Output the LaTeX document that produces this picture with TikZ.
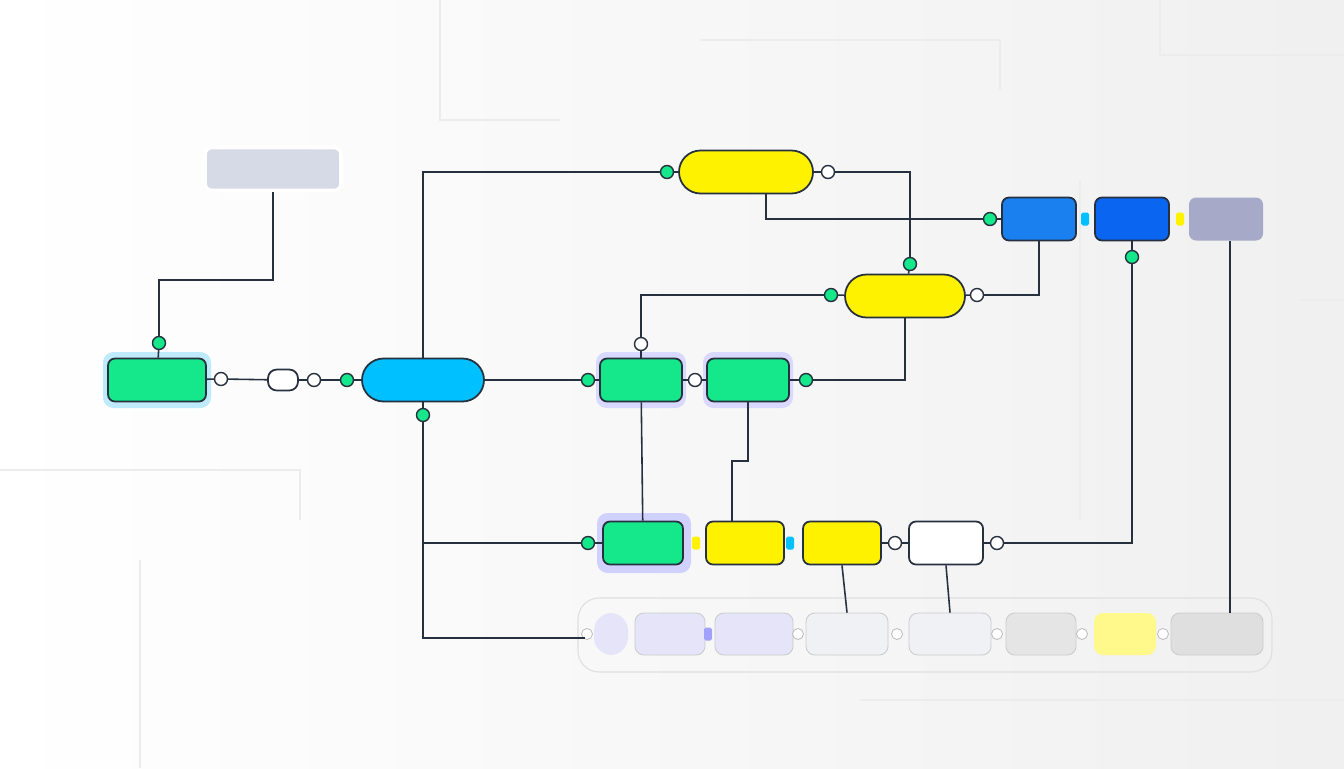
\documentclass[tikz,border=0pt]{standalone}
\usetikzlibrary{positioning}
\definecolor{ink}{HTML}{27303F}
\definecolor{mint}{HTML}{14E88A}
\definecolor{sky}{HTML}{00C0FF}
\definecolor{lemon}{HTML}{FFF200}
\definecolor{blueA}{HTML}{1A80F0}
\definecolor{blueB}{HTML}{0A66F0}
\definecolor{slate}{HTML}{A6A9C8}
\definecolor{lav}{HTML}{E6E4F8}
\definecolor{fog}{HTML}{F0F1F4}
\definecolor{pale}{HTML}{D6DAE6}
\tikzset{
  wire/.style={draw=ink, line width=0.9pt},
  box/.style={draw=ink, line width=1pt, rounded corners=4pt, minimum width=#1*0.02cm, minimum height=0.86cm, inner sep=0pt},
  box/.default=80,
  pill/.style={draw=ink, line width=1pt, rounded corners=0.43cm, minimum width=#1*0.02cm, minimum height=0.86cm, inner sep=0pt},
  dotg/.style={circle, draw=ink, fill=mint, line width=0.8pt, minimum size=0.26cm, inner sep=0pt},
  dotw/.style={circle, draw=ink, fill=white, line width=0.8pt, minimum size=0.26cm, inner sep=0pt},
  tiny/.style={fill=#1, rounded corners=1pt, minimum width=0.16cm, minimum height=0.26cm, inner sep=0pt},
  ghost/.style={draw=gray!40, line width=0.5pt, rounded corners=5pt, minimum width=#1*0.02cm, minimum height=0.84cm, inner sep=0pt},
  gdot/.style={circle, draw=gray!50, fill=white, line width=0.5pt, minimum size=0.22cm, inner sep=0pt},
}
\begin{document}
\begin{tikzpicture}[x=0.02cm, y=-0.02cm]
\shade[left color=white, right color=gray!12] (0,0) rectangle (1344,768);
\useasboundingbox (0,0) rectangle (1344,768);
% faint background traces
\draw[gray!15, line width=0.6pt] (440,0) -- (440,120) -- (560,120) (700,40) -- (1000,40) -- (1000,90) (1160,0) -- (1160,55) -- (1344,55)
  (0,470) -- (300,470) -- (300,520) (140,560) -- (140,768) (860,700) -- (1344,700) (1300,300) -- (1344,300) (1080,180) -- (1080,520);
% top row
\node[box=136, fill=pale, draw=white, line width=2pt] (memo) at (273,169) {};
\node[pill=134, fill=lemon] (y1) at (746,172) {};
\node[dotg] (y1in) at (667,172) {};
\node[dotw] (y1out) at (828,172) {};
\node[box=74, fill=blueA] (b1) at (1039,219) {};
\node[box=74, fill=blueB] (b2) at (1132,219) {};
\node[box=74, fill=slate, draw=none] (gr) at (1226,219) {};
\node[tiny=sky] (t1) at (1085,219) {};
\node[tiny=lemon] (t2) at (1180,219) {};
\node[dotg] (b1in) at (990,219) {};
\node[dotg] (b2dn) at (1132,257) {};
% second row
\node[pill=120, fill=lemon] (y2) at (905,296) {};
\node[dotg] (y2in) at (831,295) {};
\node[dotw] (y2out) at (977,295) {};
\node[dotg] (y2up) at (910,264) {};
% middle row
\fill[cyan!25, rounded corners=6pt] (103,352) rectangle (211,408);
\node[box=98, fill=mint] (g1) at (157,380) {};
\node[dotg] (g1up) at (159,343) {};
\node[dotw] (c1) at (221,379) {};
\node[box=30, minimum height=0.42cm, fill=white, rounded corners=5pt] (sw) at (283,380) {};
\node[dotw] (c2) at (314,380) {};
\node[dotg] (c3) at (347,380) {};
\node[pill=122, fill=sky] (bl) at (423,380) {};
\node[dotg] (bldn) at (423,415) {};
\fill[blue!15, rounded corners=6pt] (596,352) rectangle (686,408);
\node[box=82, fill=mint] (g2) at (641,380) {};
\node[dotg] (g2in) at (588,380) {};
\node[dotw] (g2up) at (641,344) {};
\node[dotw] (g2out) at (695,380) {};
\fill[blue!15, rounded corners=6pt] (703,352) rectangle (793,408);
\node[box=82, fill=mint] (g3) at (748,380) {};
\node[dotg] (g3out) at (806,380) {};
% bottom row
\fill[blue!18, rounded corners=6pt] (597,513) rectangle (691,573);
\node[box=80, fill=mint] (g4) at (643,543) {};
\node[dotg] (g4in) at (588,543) {};
\node[tiny=lemon] (t3) at (696,543) {};
\node[box=78, fill=lemon] (y3) at (745,543) {};
\node[tiny=sky] (t4) at (790,543) {};
\node[box=78, fill=lemon] (y4) at (842,543) {};
\node[dotw] (c4) at (895,543) {};
\node[box=74, fill=white] (wh) at (946,543) {};
\node[dotw] (c5) at (997,543) {};
% faded lane
\draw[gray!25, line width=0.6pt, rounded corners=12pt] (578,598) rectangle (1272,672);
\node[ghost=34, fill=lav, draw=none, rounded corners=10pt] (f1) at (611,634) {};
\node[ghost=70, fill=lav] (f2) at (670,634) {};
\node[ghost=78, fill=lav] (f3) at (754,634) {};
\node[ghost=82, fill=fog] (f4) at (847,634) {};
\node[ghost=82, fill=fog] (f5) at (950,634) {};
\node[ghost=70, fill=gray!20] (f6) at (1041,634) {};
\node[ghost=62, fill=lemon!45, draw=none] (f7) at (1125,634) {};
\node[ghost=92, fill=gray!25] (f8) at (1217,634) {};
\foreach \x in {587,798,897,997,1082,1163} \node[gdot] at (\x,634) {};
\node[tiny=lav!70!blue] at (708,634) {};
% wires
\draw[wire] (g1up) -- (159,280) -| (memo.south);
\draw[wire] (g1up) -- (g1);
\draw[wire] (g1) -- (c1) -- (sw) -- (c2) -- (c3) -- (bl);
\draw[wire] (bl.north) |- (y1in);
\draw[wire] (y1in) -- (y1) -- (y1out);
\draw[wire] (y1out) -| (y2up);
\draw[wire] (y2up) -- (y2);
\draw[wire] (766,193) |- (b1in);
\draw[wire] (b1in) -- (b1);
\draw[wire] (y2in) -- (y2) -- (y2out);
\draw[wire] (y2out) -| (b1.south);
\draw[wire] (y2in) -| (g2up);
\draw[wire] (g2up) -- (g2);
\draw[wire] (bl) -- (g2in) -- (g2) -- (g2out) -- (g3) -- (g3out);
\draw[wire] (g3out) -| (y2.south);
\draw[wire] (g2) -- (g4);
\draw[wire] (g3.south) -- (748,461) -- (732,461) -- (732,521);
\draw[wire] (bl) -- (bldn);
\draw[wire] (bldn) |- (585,638);
\draw[wire] (423,543) -- (g4in) -- (g4);
\draw[wire] (y4) -- (c4) -- (wh) -- (c5);
\draw[wire] (c5) -| (b2dn);
\draw[wire] (b2dn) -- (b2);
\draw[wire] (y4.south) -- (f4.north);
\draw[wire] (wh.south) -- (f5.north);
\draw[wire] (1230,241) -- (1230,613);
\end{tikzpicture}
\end{document}
